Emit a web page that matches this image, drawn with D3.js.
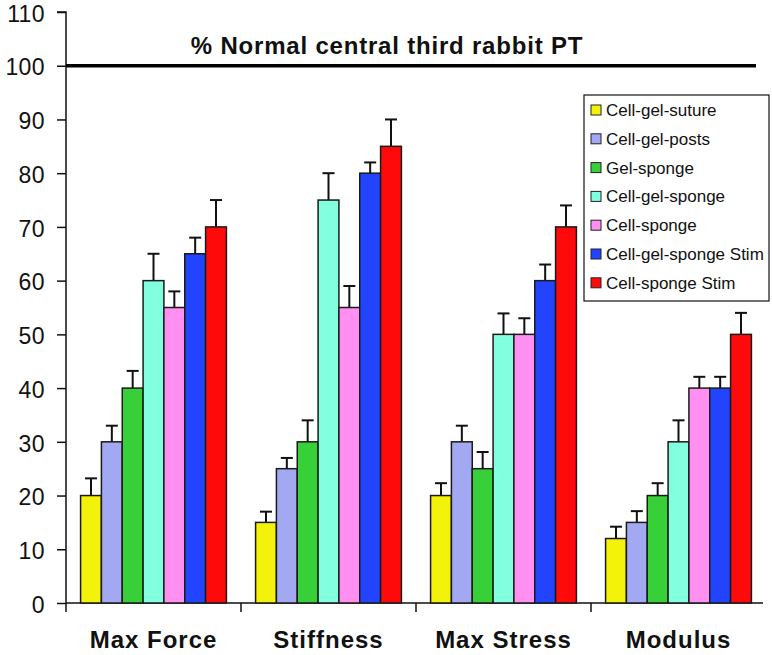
<!DOCTYPE html>
<html>
<head>
<meta charset="utf-8">
<script src="https://cdn.jsdelivr.net/npm/d3@7"></script>
<style>
  html, body { margin: 0; padding: 0; background: #fff; }
  svg { display: block; }
</style>
</head>
<body>
<svg id="chart" width="772" height="655"></svg>
<script>
const categories = ["Max Force", "Stiffness", "Max Stress", "Modulus"];
const seriesNames = ["Cell-gel-suture", "Cell-gel-posts", "Gel-sponge", "Cell-gel-sponge", "Cell-sponge", "Cell-gel-sponge Stim", "Cell-sponge Stim"];
const seriesColors = ["#f2f20a", "#a3a8f2", "#38d038", "#82ffdf", "#ff90f2", "#2244ff", "#ff0a0a"];
// values per series, in category order
const values = [
  [20, 15, 20, 12],
  [30, 25, 30, 15],
  [40, 30, 25, 20],
  [60, 75, 50, 30],
  [55, 55, 50, 40],
  [65, 80, 60, 40],
  [70, 85, 70, 50]
];
// upper end of error bars
const errorTops = [
  [23.2, 17, 22.3, 14.2],
  [33, 27, 33, 17.1],
  [43.2, 34, 28.1, 22.3],
  [65, 80, 53.9, 34],
  [58, 59, 53, 42.1],
  [68, 82, 63, 42.1],
  [75, 90, 74, 54]
];
const yTicks = [0, 10, 20, 30, 40, 50, 60, 70, 80, 90, 100, 110];
const referenceValue = 100;
const referenceLabel = "% Normal central third rabbit PT";

(function () {
const svg = d3.select("#chart");
const mLeft = 66, mRight = 766, mTop = 12, mBottom = 603;

const y = d3.scaleLinear().domain([0, 110]).range([mBottom, mTop]);
const x0 = d3.scaleBand().domain(categories).range([mLeft, mRight]).padding(0);
const x1 = d3.scaleBand().domain(seriesNames).range([0, x0.bandwidth()])
  .paddingInner(0).paddingOuter(0.7);

// Y axis
const yAxis = d3.axisLeft(y).tickValues(yTicks).tickSize(9).tickPadding(12).tickFormat(d3.format("d"));
const yg = svg.append("g").attr("transform", `translate(${mLeft},0)`).call(yAxis);
yg.select(".domain").attr("stroke", "#111").attr("stroke-width", 1.5).attr("d", `M-9,${mTop}H0V${mBottom}`);
yg.selectAll(".tick line").attr("stroke", "#111").attr("stroke-width", 1.5);
yg.selectAll(".tick text").attr("font-family", "Liberation Sans, Arial, sans-serif")
  .attr("font-size", 23).attr("dy", "0.4em").attr("letter-spacing", "0.4px").attr("fill", "#111");

// X axis line
svg.append("line").attr("x1", mLeft).attr("x2", 763).attr("y1", mBottom).attr("y2", mBottom)
  .attr("stroke", "#111").attr("stroke-width", 1.5);
svg.append("g").selectAll("line").data(categories).join("line")
  .attr("x1", d => x0(d)).attr("x2", d => x0(d))
  .attr("y1", mBottom).attr("y2", mBottom + 9)
  .attr("stroke", "#111").attr("stroke-width", 1.5);
svg.append("g").selectAll("text").data(categories).join("text")
  .attr("x", d => x0(d) + x0.bandwidth() / 2)
  .attr("y", 648)
  .attr("text-anchor", "middle")
  .attr("font-family", "Liberation Sans, Arial, sans-serif")
  .attr("font-size", 24).attr("font-weight", "bold")
  .attr("letter-spacing", "1px")
  .attr("fill", "#111")
  .text(d => d);

// Reference line at 100
svg.append("line").attr("x1", mLeft).attr("x2", 756)
  .attr("y1", y(referenceValue)).attr("y2", y(referenceValue))
  .attr("stroke", "#000").attr("stroke-width", 3.5);
svg.append("text").attr("x", 387).attr("y", 54)
  .attr("text-anchor", "middle")
  .attr("font-family", "Liberation Sans, Arial, sans-serif")
  .attr("font-size", 24).attr("font-weight", "bold")
  .attr("letter-spacing", "0.8px")
  .attr("fill", "#111")
  .text(referenceLabel);

const data = [];
seriesNames.forEach((s, si) => categories.forEach((c, ci) => {
  data.push({ s, si, c, v: values[si][ci], e: errorTops[si][ci] });
}));

// error bars
const eg = svg.append("g");
eg.selectAll("line.v").data(data).join("line").attr("class", "v")
  .attr("x1", d => x0(d.c) + x1(d.s) + x1.bandwidth() / 2)
  .attr("x2", d => x0(d.c) + x1(d.s) + x1.bandwidth() / 2)
  .attr("y1", d => y(d.v)).attr("y2", d => y(d.e))
  .attr("stroke", "#111").attr("stroke-width", 2);
eg.selectAll("line.c").data(data).join("line").attr("class", "c")
  .attr("x1", d => x0(d.c) + x1(d.s) + x1.bandwidth() / 2 - 6)
  .attr("x2", d => x0(d.c) + x1(d.s) + x1.bandwidth() / 2 + 6)
  .attr("y1", d => y(d.e)).attr("y2", d => y(d.e))
  .attr("stroke", "#111").attr("stroke-width", 2);

// bars
svg.append("g").selectAll("rect").data(data).join("rect")
  .attr("x", d => x0(d.c) + x1(d.s))
  .attr("width", x1.bandwidth())
  .attr("y", d => y(d.v))
  .attr("height", d => y(0) - y(d.v))
  .attr("fill", d => seriesColors[d.si])
  .attr("stroke", "#1a1a1a").attr("stroke-width", 1.5);

// Legend
const lg = svg.append("g");
lg.append("rect").attr("x", 584).attr("y", 95).attr("width", 185).attr("height", 206)
  .attr("fill", "#fff").attr("stroke", "#111").attr("stroke-width", 1.2);
const items = lg.selectAll("g.item").data(seriesNames).join("g").attr("class", "item")
  .attr("transform", (d, i) => `translate(591,${110 + i * 28.8})`);
items.append("rect").attr("x", 0).attr("y", -5).attr("width", 10).attr("height", 10)
  .attr("fill", (d, i) => seriesColors[i]).attr("stroke", "#222").attr("stroke-width", 1);
items.append("text").attr("x", 15).attr("y", 6)
  .attr("font-family", "Liberation Sans, Arial, sans-serif")
  .attr("font-size", 17).attr("fill", "#111")
  .text(d => d);
})();
</script>
</body>
</html>
